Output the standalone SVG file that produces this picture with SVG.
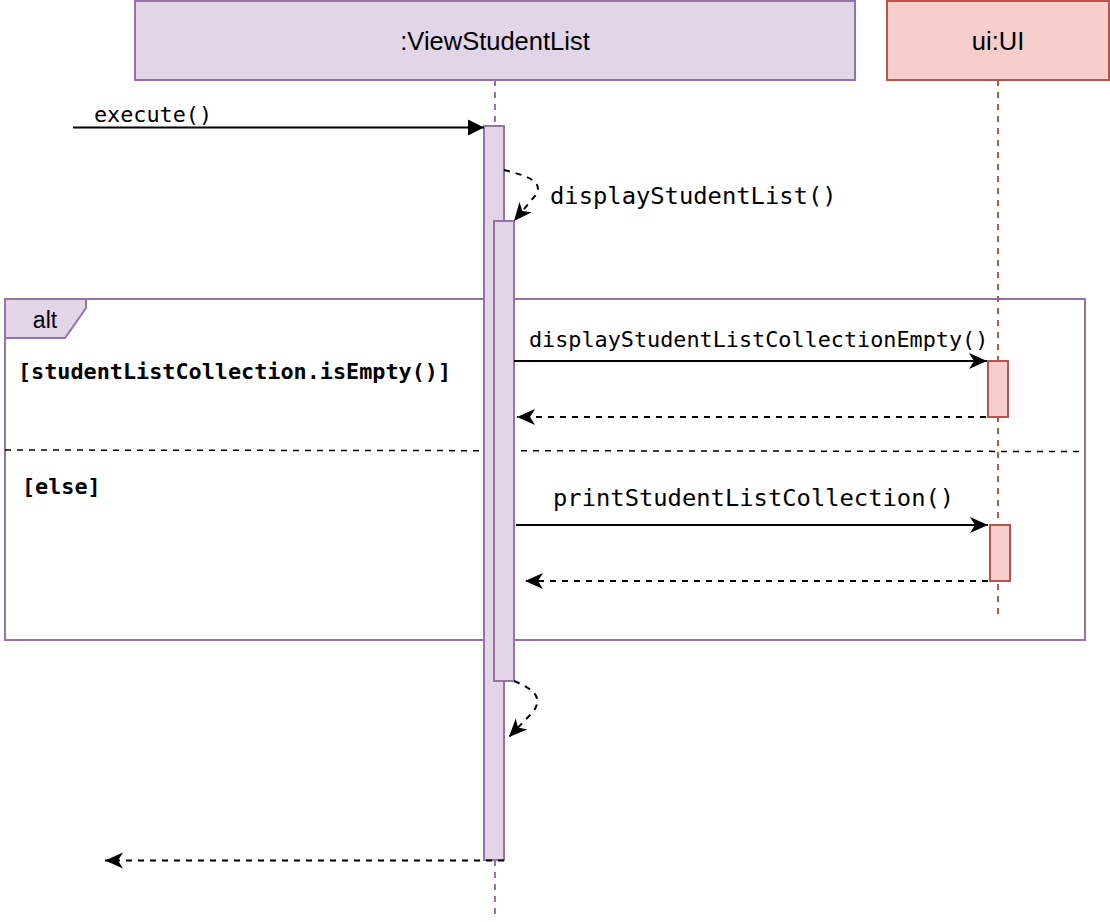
<svg xmlns="http://www.w3.org/2000/svg" width="1110" height="922" viewBox="0 0 1110 922">
<style>
.hdr-p{fill:#e1d5e7;stroke:#9673a6;stroke-width:2}
.hdr-r{fill:#f8cecc;stroke:#b85450;stroke-width:2}
.life-p{stroke:#9673a6;stroke-width:2;stroke-dasharray:6 6;fill:none}
.life-r{stroke:#b85450;stroke-width:2;stroke-dasharray:6 6;fill:none}
.act-p{fill:#e1d5e7;stroke:#9673a6;stroke-width:2}
.act-r{fill:#f8cecc;stroke:#b85450;stroke-width:2}
.msg{stroke:#000;stroke-width:2;fill:none}
.ret{stroke:#000;stroke-width:2;fill:none;stroke-dasharray:6 6}
.title{font-family:"Liberation Sans",Arial,sans-serif;font-size:25.5px;fill:#000;text-anchor:middle}
.mono{font-family:"DejaVu Sans Mono","Liberation Mono",monospace;fill:#000}
.frame{fill:none;stroke:#9673a6;stroke-width:2}
</style>
<defs>
<marker id="block" viewBox="-17 -9 18 18" refX="0" refY="0" markerWidth="18" markerHeight="18" markerUnits="userSpaceOnUse" orient="auto">
<path d="M0,0 L-16,-8 L-16,8 Z" fill="#000"/>
</marker>
<marker id="classic" viewBox="-20 -10 21 20" refX="0" refY="0" markerWidth="21" markerHeight="20" markerUnits="userSpaceOnUse" orient="auto">
<path d="M0,0 L-18,-8 L-13,0 L-18,8 Z" fill="#000"/>
</marker>
</defs>
<rect width="1110" height="922" fill="#fff"/>

<g id="frame-alt">
<rect class="frame" x="5" y="299" width="1080" height="341"/>
<path d="M5,299 L86,299 L86,308 L65,338 L5,338 Z" fill="#e1d5e7" stroke="#9673a6" stroke-width="2"/>
<text x="45" y="328" font-family="Liberation Sans,Arial,sans-serif" font-size="23" text-anchor="middle" fill="#000">alt</text>
<line x1="5" y1="450" x2="1084" y2="451.5" stroke="#000" stroke-width="1.5" stroke-dasharray="6 6"/>
<text class="mono" x="18" y="379" font-size="21.8" font-weight="bold">[studentListCollection.isEmpty()]</text>
<text class="mono" x="22" y="494" font-size="21.8" font-weight="bold">[else]</text>
</g>

<g id="node-viewstudentlist">
<rect class="hdr-p" x="135" y="1" width="720" height="79"/>
<text class="title" x="495" y="50">:ViewStudentList</text>
<line class="life-p" x1="495" y1="80" x2="495" y2="916"/>
<rect class="act-p" x="484" y="126" width="20" height="734"/>
<rect class="act-p" x="494" y="221" width="20" height="460"/>
</g>

<g id="node-ui">
<rect class="hdr-r" x="887" y="1" width="222" height="79"/>
<text class="title" x="998" y="50">ui:UI</text>
<line class="life-r" x1="998" y1="80" x2="998" y2="616"/>
<rect class="act-r" x="988" y="361" width="20" height="56"/>
<rect class="act-r" x="990" y="525" width="20" height="56"/>
</g>

<g id="connectors">
<line class="msg" x1="73" y1="127.5" x2="484" y2="127.5" marker-end="url(#block)"/>
<text class="mono" x="94" y="122" font-size="21.8">execute()</text>

<path class="ret" d="M504,170 C524,175 546,181 535,196 L514,221" marker-end="url(#classic)"/>
<text class="mono" x="550" y="204" font-size="23.8">displayStudentList()</text>

<line class="msg" x1="514" y1="361" x2="987" y2="361" marker-end="url(#classic)"/>
<text class="mono" x="529" y="347" font-size="21.8">displayStudentListCollectionEmpty()</text>
<line class="ret" x1="986" y1="417" x2="517" y2="417" marker-end="url(#classic)"/>

<line class="msg" x1="516" y1="525" x2="988" y2="525" marker-end="url(#classic)"/>
<text class="mono" x="553" y="506" font-size="23.8">printStudentListCollection()</text>
<line class="ret" x1="988" y1="581" x2="525" y2="581" marker-end="url(#classic)"/>

<path class="ret" d="M514,681 C530,688 546,696 532,713 L509,737" marker-end="url(#classic)"/>

<line class="ret" x1="504" y1="860.5" x2="105" y2="860.5" marker-end="url(#classic)"/>
</g>
</svg>
